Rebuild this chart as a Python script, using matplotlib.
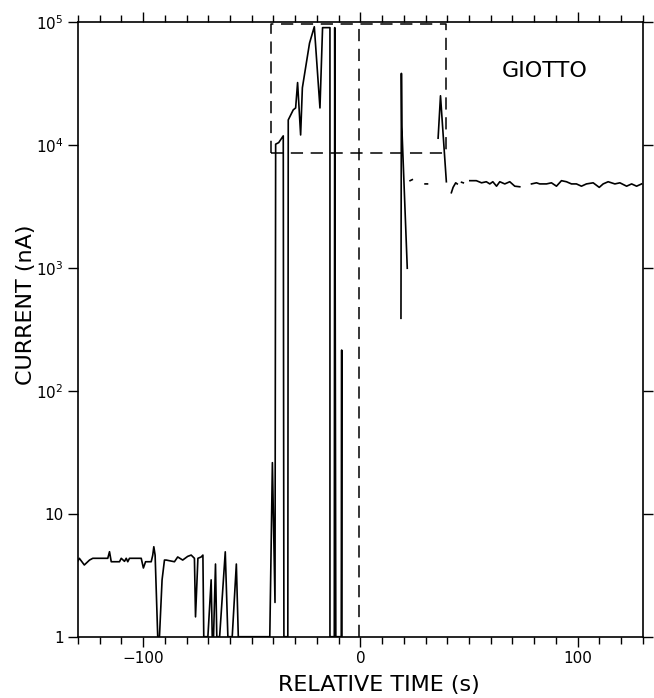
import numpy as np
import matplotlib
matplotlib.use('Agg')
import matplotlib.pyplot as plt

plt.rcParams['font.family'] = ['DejaVu Sans']

# relative time (s) and current (nA); nan = gap in the record
t = [-130.6, -129.4, -127.1, -124.7, -123.2, -116.3, -115.5, -114.7, -110.9, -110.1,
     -108.6, -107.8, -107.1, -106.3, -100.9, -99.9, -98.9, -96.3, -95.6, -95.1,
     -94.5, -93.3, -92.5, -91.3, -90.2, -89.4, -85.6, -84.1, -81.8, -79.5,
     -77.9, -76.4, -75.9, -74.8, -73.3, -72.5, -72.1, -70.2, -68.7, -68.2,
     -67.6, -66.7, -66.1, -64.8, -62.2, -61.0, -59.0, -57.1, -56.2, -41.7,
     -40.5, -39.3, -39.0, -37.6, -35.5, -35.2, -33.4, -33.2, -30.9, -29.8,
     -28.9, -27.5, -26.7, -23.4, -21.2, -18.6, -17.4, -14.0, -14.0, -12.0,
     -11.8, -11.3, -8.8, -8.6, -8.5, np.nan,
     18.7, 18.9, 19.1, 21.6, np.nan,
     22.9, 23.9, np.nan,
     29.8, 30.9, np.nan,
     35.8, 36.9, 38.7, 39.6, np.nan,
     41.9, 42.7, 43.9, 44.6, np.nan, 46.6, 47.4, np.nan,
     50.4, 53.4, 55.8, 58.0, 59.6, 61.0, 62.7, 64.2,
     66.5, 68.8, 71.1, 73.4, np.nan,
     78.8, 81.1, 82.6, 85.7, 88.0, 90.3, 92.6, 94.9, 97.2, 99.5,
     101.8, 104.1, 107.2, 110.0, 111.8, 114.1, 117.2, 119.5, 122.6, 124.9,
     127.2, 129.5]
current = [3.97, 4.34, 3.83, 4.2, 4.34, 4.34, 4.91, 4.07, 4.07, 4.34,
           4.1, 4.34, 4.07, 4.34, 4.34, 3.62, 4.07, 4.07, 4.6, 5.39,
           4.6, 1.0, 1.0, 2.9, 4.2, 4.2, 4.07, 4.45, 4.2, 4.5,
           4.61, 4.34, 1.45, 4.34, 4.45, 4.61, 1.0, 1.0, 2.9, 1.0,
           1.0, 3.9, 1.0, 1.0, 4.9, 1.0, 1.0, 3.9, 1.0, 1.0,
           26, 1.9, 1.01e4, 1.04e4, 1.18e4, 1.0, 1.0, 1.59e4, 1.92e4, 1.99e4,
           3.2e4, 1.2e4, 2.9e4, 6.7e4, 9.1e4, 1.99e4, 8.95e4, 8.95e4, 1.0, 1.0,
           8.95e4, 1.0, 1.0, 214, 1.0, np.nan,
           388, 3.8e4, 1.4e4, 990, np.nan,
           5.1e3, 5.2e3, np.nan,
           4.8e3, 4.8e3, np.nan,
           1.13e4, 2.5e4, 8.5e3, 5.0e3, np.nan,
           4.07e3, 4.5e3, 4.9e3, 4.8e3, np.nan, 4.95e3, 4.9e3, np.nan,
           5.1e3, 5.1e3, 4.9e3, 5.0e3, 4.8e3, 5.0e3, 4.6e3, 5.0e3,
           4.8e3, 5.0e3, 4.6e3, 4.55e3, np.nan,
           4.8e3, 4.9e3, 4.8e3, 4.8e3, 4.9e3, 4.6e3, 5.1e3, 5.0e3, 4.8e3, 4.8e3,
           4.6e3, 4.8e3, 4.9e3, 4.5e3, 4.8e3, 5.0e3, 4.8e3, 4.9e3, 4.6e3, 4.8e3,
           4.6e3, 4.8e3]

# dashed box marking the enlarged interval
box_t = [-41.0, -41.0, 39.5, 39.5, -41.0]
box_i = [8.5e3, 9.6e4, 9.6e4, 8.5e3, 8.5e3]

yticks = [1, 10, 100, 1e3, 1e4, 1e5]
ylabels = ['1', '10', '$10^2$', '$10^3$', '$10^4$', '$10^5$']
xticks = [-100, 0, 100]
xminor = np.arange(-130, 131, 10)

fig = plt.figure(figsize=(6.54, 6.98), dpi=100)
ax = fig.add_axes([0.1193, 0.0878, 0.8634, 0.8811])

ax.plot(t, current, color='black', lw=1.2)
ax.plot(box_t, box_i, color='black', lw=1.1, ls=(0, (8, 5)))
ax.axvline(-0.6, color='black', lw=1.1, ls=(0, (8, 5)))

ax.set_yscale('log')
ax.set_xlim(-130, 130)
ax.set_ylim(1, 1e5)
ax.set_yticks(yticks)
ax.set_yticklabels(ylabels)
ax.yaxis.set_minor_locator(matplotlib.ticker.NullLocator())
ax.set_xticks(xticks)
ax.set_xticklabels(['\u2212100', '0', '100'])
ax.set_xticks(xminor, minor=True)

ax.tick_params(which='both', direction='out', top=True, right=True,
               labeltop=False, labelright=False, width=1, labelsize=11)
ax.tick_params(which='major', length=7)
ax.tick_params(which='minor', length=5)
for s in ax.spines.values():
    s.set_linewidth(1.2)

ax.set_xlabel('RELATIVE TIME (s)', fontsize=16)
ax.xaxis.set_label_coords(0.533, -0.062)
ax.set_ylabel('CURRENT (nA)', fontsize=16)
ax.yaxis.set_label_coords(-0.075, 0.54)

ax.text(85, 4.0e4, 'GIOTTO', fontsize=16, ha='center', va='center')

fig.savefig('out.png', dpi=100)
